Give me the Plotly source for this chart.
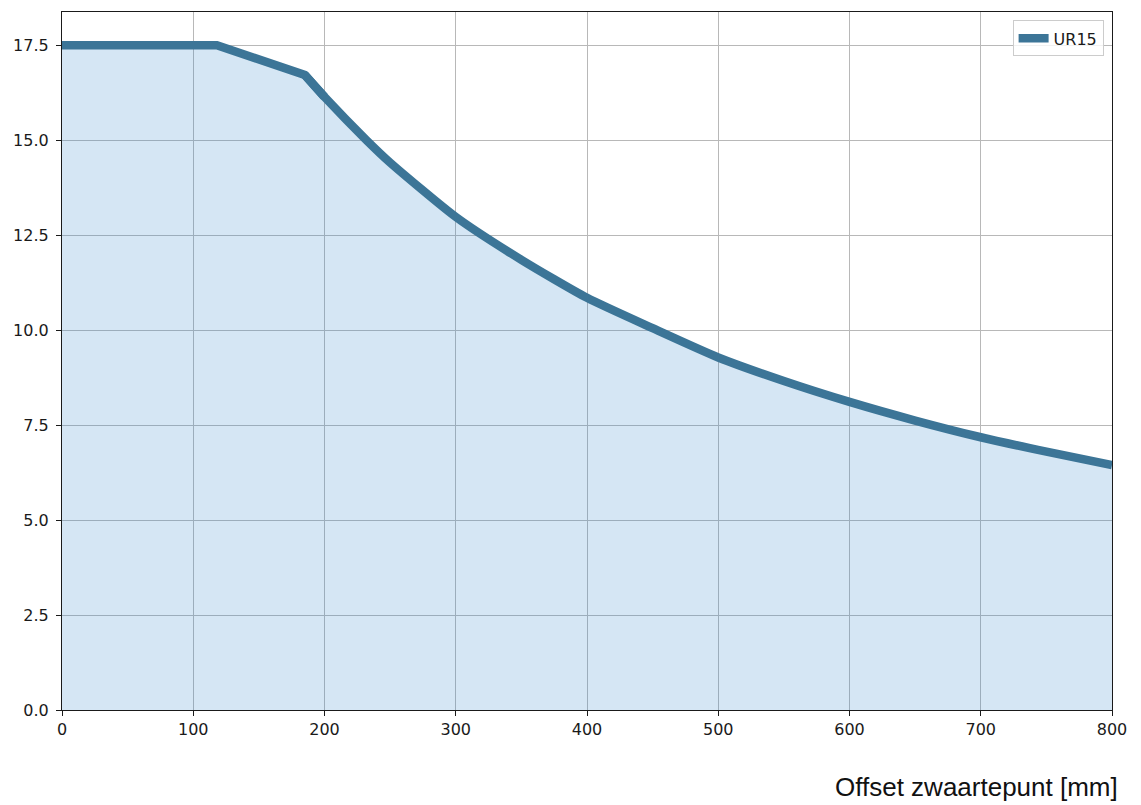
import plotly.graph_objects as go

# Data
offset_mm = [0, 118, 185, 200, 232, 250, 300, 350, 400, 450, 500, 550, 600, 650, 700, 750, 800]
payload_kg = [17.5, 17.5, 16.72, 16.14, 15.0, 14.41, 12.98, 11.85, 10.85, 10.05, 9.28, 8.66, 8.11, 7.62, 7.18, 6.80, 6.45]
series_name = "UR15"
x_ticks = [0, 100, 200, 300, 400, 500, 600, 700, 800]
y_ticks = [0.0, 2.5, 5.0, 7.5, 10.0, 12.5, 15.0, 17.5]
y_tick_labels = ["0.0", "2.5", "5.0", "7.5", "10.0", "12.5", "15.0", "17.5"]
x_title = "Offset zwaartepunt [mm]"

line_color = "#3c7597"
fill_color = "rgba(44,130,201,0.2)"
tick_font = dict(family="DejaVu Sans", size=16, color="#1a1a1a")

KNEE = 2  # index of the knee point where the smooth curve starts

fig = go.Figure()
fig.add_trace(go.Scatter(
    x=offset_mm, y=payload_kg, mode="lines", fill="tozeroy",
    fillcolor=fill_color, line=dict(width=0, color=line_color, shape="spline", smoothing=0.4),
    showlegend=False, hoverinfo="skip",
))
# smooth part of the curve (from the knee onward)
fig.add_trace(go.Scatter(
    x=offset_mm[KNEE:], y=payload_kg[KNEE:], mode="lines", name=series_name,
    legendgroup="ur15", showlegend=False,
    line=dict(width=8.5, color=line_color, shape="spline", smoothing=0.6),
))
# straight part, continuing one point past the knee so the joint is covered
fig.add_trace(go.Scatter(
    x=offset_mm[:KNEE + 2], y=payload_kg[:KNEE + 2], mode="lines", name=series_name,
    legendgroup="ur15", line=dict(width=8.5, color=line_color),
))

axis_common = dict(
    showline=True, linecolor="#1a1a1a", linewidth=1.2, mirror=True,
    showgrid=True, gridcolor="#b8b8b8", gridwidth=1,
    ticks="outside", ticklen=5, tickwidth=1, tickcolor="#1a1a1a",
    tickfont=tick_font, zeroline=False,
)

fig.update_xaxes(range=[0, 800], tickvals=x_ticks, ticktext=[str(v) for v in x_ticks], **axis_common)
fig.update_yaxes(range=[0, 18.375], tickvals=y_ticks, ticktext=y_tick_labels,
                 ticklabelstandoff=4, **axis_common)

fig.add_annotation(
    text=x_title, xref="paper", yref="paper", x=1.008, y=-0.111,
    xanchor="right", yanchor="middle", showarrow=False,
    font=dict(family="Liberation Sans", size=26, color="#111111"),
)

fig.update_layout(
    width=1133, height=797,
    margin=dict(l=54, r=29, t=4, b=95),
    plot_bgcolor="white", paper_bgcolor="white",
    legend=dict(
        x=0.992, y=0.988, xanchor="right", yanchor="top",
        bgcolor="rgba(255,255,255,0.8)", bordercolor="#cccccc", borderwidth=1,
        font=dict(family="DejaVu Sans", size=16, color="#1a1a1a"),
        itemwidth=30, entrywidth=72,
    ),
)

fig.write_html("out.html")
